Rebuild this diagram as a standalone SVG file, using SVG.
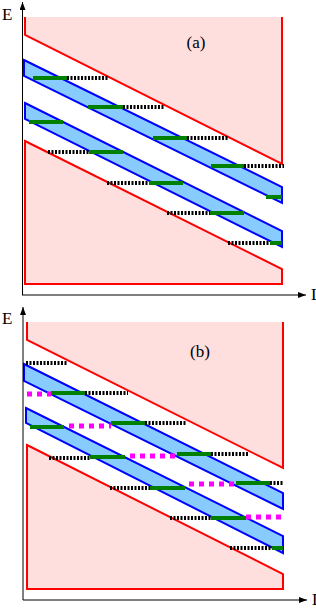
<svg xmlns="http://www.w3.org/2000/svg" width="316" height="608" viewBox="0 0 316 608">
<style>
.band{fill:#ffdede;stroke:none}
.red{fill:none;stroke:#ff0000;stroke-width:2;stroke-linejoin:miter}
.redc{fill:#ffdede;stroke:#ff0000;stroke-width:2}
.blue{fill:#88ccff;stroke:#0000ff;stroke-width:2}
.g{stroke:#008000;stroke-width:4;fill:none}
.k{stroke:#000;stroke-width:4;stroke-dasharray:2 1.5;fill:none}
.m{stroke:#ff00ff;stroke-width:5;stroke-dasharray:5 5;fill:none}
.ax{stroke:#000;stroke-width:1;fill:none}
.lbl{font-family:"Liberation Serif",serif;font-size:17px;fill:#000}
.pl{font-family:"Liberation Serif",serif;font-size:17px;fill:#000;text-anchor:middle}
</style>
<defs>
<marker id="arr" markerUnits="userSpaceOnUse" markerWidth="8" markerHeight="6" refX="8" refY="3" orient="auto">
<path d="M0,0 L8,3 L0,6 z" fill="#000"/>
</marker>
</defs>
<g id="panel-a">
<polygon class="band" points="25,17 282,17 282,164 25,35"/>
<path class="red" d="M25,17 L25,35 L282,164 L282,17"/>
<polygon class="redc" points="25,141 282,269 282,284 25,284"/>
<polygon class="blue" points="24,60 282,187 282,203 24,76"/>
<polygon class="blue" points="25,103 282,231 282,247 25,119"/>
<g id="levels-a">
<line class="g" x1="33" y1="78" x2="67" y2="78"/>
<line class="k" x1="67" y1="78" x2="108" y2="78"/>
<line class="g" x1="88" y1="107" x2="123" y2="107"/>
<line class="k" x1="123" y1="107" x2="164" y2="107"/>
<line class="g" x1="153" y1="138" x2="187" y2="138"/>
<line class="k" x1="187" y1="138" x2="229" y2="138"/>
<line class="g" x1="211" y1="166" x2="244" y2="166"/>
<line class="k" x1="244" y1="166" x2="284" y2="166"/>
<line class="g" x1="266" y1="197" x2="282" y2="197"/>
<line class="g" x1="29" y1="122" x2="63" y2="122"/>
<line class="k" x1="48" y1="152" x2="89" y2="152"/>
<line class="g" x1="89" y1="152" x2="123" y2="152"/>
<line class="k" x1="107" y1="183" x2="149" y2="183"/>
<line class="g" x1="149" y1="183" x2="183" y2="183"/>
<line class="k" x1="167" y1="213" x2="210" y2="213"/>
<line class="g" x1="210" y1="213" x2="244" y2="213"/>
<line class="k" x1="228" y1="243" x2="270" y2="243"/>
<line class="g" x1="270" y1="243" x2="282" y2="243"/>
</g>
<g id="axes-a">
<line class="ax" x1="22.5" y1="295" x2="22.5" y2="2" marker-end="url(#arr)"/>
<line class="ax" x1="22" y1="295" x2="306" y2="295" marker-end="url(#arr)"/>
</g>
<text class="lbl" x="2" y="20">E</text>
<text class="lbl" x="311" y="300">L</text>
<text class="pl" x="196" y="48">(a)</text>
</g>
<g id="panel-b">
<polygon class="band" points="27,322 283,322 283,468 27,340"/>
<path class="red" d="M27,322 L27,340 L283,468 L283,322"/>
<polygon class="redc" points="27,445 283,574 283,589 27,589"/>
<polygon class="blue" points="24,364 283,493 283,509 24,381"/>
<polygon class="blue" points="26,408 283,536 283,553 26,423"/>
<g id="levels-b">
<line class="k" x1="26" y1="363" x2="68" y2="363"/>
<line class="m" x1="27" y1="394" x2="51" y2="394"/>
<line class="g" x1="51" y1="393" x2="85" y2="393"/>
<line class="k" x1="85" y1="393" x2="128" y2="393"/>
<line class="g" x1="30" y1="427" x2="64" y2="427"/>
<line class="m" x1="69" y1="426" x2="111" y2="426"/>
<line class="g" x1="111" y1="423" x2="145" y2="423"/>
<line class="k" x1="145" y1="423" x2="187" y2="423"/>
<line class="k" x1="49" y1="458" x2="90" y2="458"/>
<line class="g" x1="90" y1="457" x2="125" y2="457"/>
<line class="m" x1="130" y1="456" x2="176" y2="456"/>
<line class="g" x1="177" y1="454" x2="211" y2="454"/>
<line class="k" x1="211" y1="454" x2="249" y2="454"/>
<line class="k" x1="110" y1="488" x2="150" y2="488"/>
<line class="g" x1="150" y1="488" x2="185" y2="488"/>
<line class="m" x1="189" y1="484" x2="235" y2="484"/>
<line class="g" x1="236" y1="483" x2="270" y2="483"/>
<line class="k" x1="270" y1="483" x2="283" y2="483"/>
<line class="k" x1="170" y1="518" x2="211" y2="518"/>
<line class="g" x1="211" y1="518" x2="246" y2="518"/>
<line class="m" x1="246" y1="517" x2="286" y2="517"/>
<line class="k" x1="230" y1="548" x2="272" y2="548"/>
<line class="g" x1="272" y1="548" x2="283" y2="548"/>
</g>
<g id="axes-b">
<line class="ax" x1="23" y1="600" x2="23" y2="307" marker-end="url(#arr)"/>
<line class="ax" x1="23" y1="600" x2="307" y2="600" marker-end="url(#arr)"/>
</g>
<text class="lbl" x="2" y="324">E</text>
<text class="lbl" x="312" y="605">L</text>
<text class="pl" x="200" y="357">(b)</text>
</g>
</svg>
